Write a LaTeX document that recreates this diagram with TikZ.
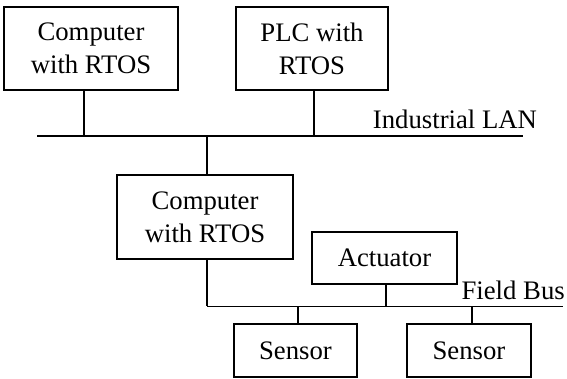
\documentclass[tikz,border=0pt]{standalone}
\usepackage{fontspec}
\setmainfont{Liberation Serif}
\usepackage{tikz}
\usetikzlibrary{positioning}

\tikzset{
  unit/.style={draw, line width=1.4pt, align=center, inner sep=0pt},
  bus/.style={line width=1.4pt}
}

\begin{document}
\begin{tikzpicture}[x=0.025cm, y=0.025cm, font=\fontsize{19}{23.4}\selectfont, line width=1.4pt]
			 \useasboundingbox (0,0) rectangle (567,379);
			 % upper level
			 \node[unit, minimum width=4.3625cm, minimum height=2.075cm] (pc) at (91,330.5) {Computer\\with RTOS};
			 \node[unit, minimum width=3.8cm, minimum height=2.075cm] (plc) at (312,330.5) {PLC with\\RTOS};
			 \coordinate (lanL) at (37,243);
			 \coordinate (lanR) at (523,243);
			 \draw[bus] (lanL)--(lanR)node[pos=0.86, above=1pt]{Industrial LAN};
			 % middle level
			 \node[unit, minimum width=4.4cm, minimum height=2.1cm] (gw) at (205,162) {Computer\\with RTOS};
			 \node[unit, minimum width=3.625cm, minimum height=1.3cm] (act) at (384.5,121) {Actuator};
			 \coordinate (fbL) at (207,72.5);
			 \coordinate (fbR) at (563,72.5);
			 \draw[bus] (fbL)--(fbR)node[pos=0.86, above=1pt]{Field Bus};
			 % field devices
			 \node[unit, minimum width=3.075cm, minimum height=1.325cm] (s1) at (295.5,28.5) {Sensor};
			 \node[unit, minimum width=3.1cm, minimum height=1.325cm] (s2) at (469,28.5) {Sensor};
			 % taps onto the buses
			 \coordinate (t1) at (84,243);
			 \coordinate (t2) at (314,243);
			 \coordinate (t3) at (207,243);
			 \coordinate (t4) at (386,72.5);
			 \coordinate (t5) at (298,72.5);
			 \coordinate (t6) at (472,72.5);
			 \draw (pc.south -| t1)--(t1);
			 \draw (plc.south -| t2)--(t2);
			 \draw (t3)--(gw.north -| t3);
			 \draw (gw.south -| fbL)--(fbL);
			 \draw (act.south -| t4)--(t4);
			 \draw (t5)--(s1.north -| t5);
			 \draw (t6)--(s2.north -| t6);
		\end{tikzpicture}
\end{document}
